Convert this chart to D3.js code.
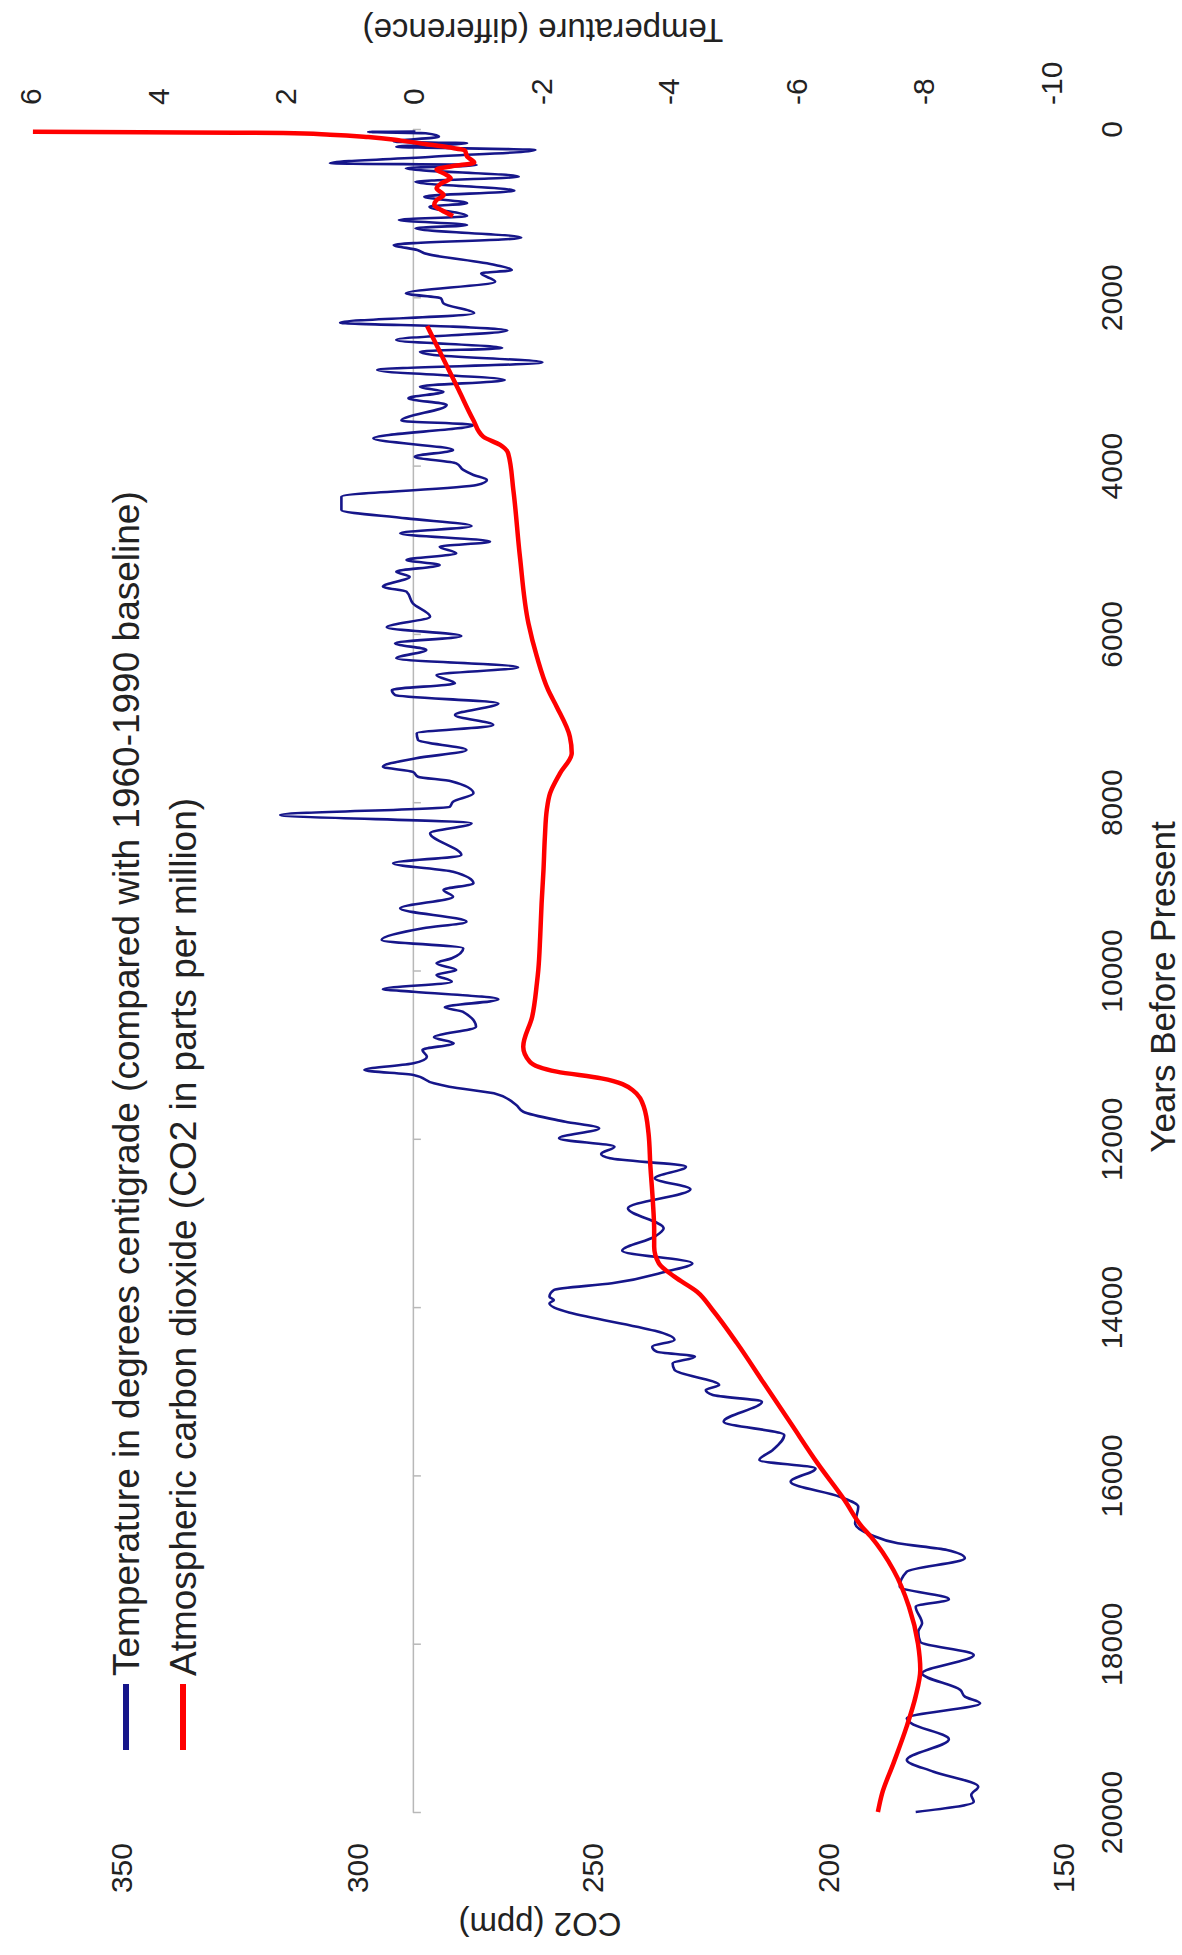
<!DOCTYPE html>
<html>
<head>
<meta charset="utf-8">
<script src="https://cdn.jsdelivr.net/npm/d3@7"></script>
<style>
  body { margin: 0; background: #fff; }
  svg { display: block; }
  text { font-family: "Liberation Sans", Arial, sans-serif; fill: #222; }
</style>
</head>
<body>
<div id="chart"></div>
<script>
// temperature difference (deg C) against years before present
const tempYears = [30, 35, 50, 91, 150, 170, 210, 250, 330, 408, 428, 467, 567, 626, 733, 804, 883, 923,
  1034, 1081, 1141, 1180, 1291, 1378, 1438, 1477, 1616, 1676, 1715, 1814, 1953, 2012, 2072, 2190,
  2301, 2349, 2396, 2507, 2602, 2646, 2686, 2773, 2864, 2983, 3062, 3122, 3200, 3280, 3466, 3517,
  3676, 3815, 3894, 3973, 4052, 4112, 4171, 4231, 4369, 4528, 4627, 4718, 4805, 4904, 4964, 5043,
  5122, 5181, 5261, 5320, 5439, 5498, 5637, 5795, 5922, 6025, 6112, 6191, 6290, 6397, 6489, 6587,
  6667, 6726, 6825, 6964, 7083, 7182, 7261, 7380, 7478, 7578, 7640, 7697, 7750, 7894, 7994, 8053,
  8152, 8251, 8370, 8628, 8726, 8826, 8964, 9043, 9123, 9261, 9420, 9499, 9638, 9736, 9855, 9915,
  9994, 10053, 10133, 10223, 10252, 10343, 10438, 10489, 10668, 10794, 10865, 10945, 11024, 11103,
  11182, 11242, 11341, 11381, 11460, 11598, 11678, 11797, 11875, 11994, 12094, 12180, 12232, 12331,
  12469, 12600, 12826, 13064, 13163, 13330, 13480, 13579, 13717, 13797, 13876, 13916, 13955, 14391,
  14470, 14529, 14589, 14668, 14747, 14926, 14985, 15045, 15124, 15362, 15520, 15698, 15817, 15917,
  16075, 16253, 16372, 16570, 16708, 16807, 16887, 16985, 17144, 17322, 17472, 17560, 17758, 17857,
  17976, 18134, 18352, 18550, 18629, 18708, 18887, 18946, 19136, 19382, 19521, 19699, 19798, 19877, 20000]
const tempValues = [-0.04, 0.7, -0.2, -0.41, 0.3, -0.85, 0.26, -1.92, -0.3, 1.3, -1.0, 0.11, -1.66, -0.04, -1.59, -0.18, -0.85, -0.26,
  -0.85, 0.22, -0.85, -0.04, -1.7, 0.3, -0.07, -0.18, -1.29, -1.55, -1.07, -1.29, 0.11, -0.44, -0.48, -0.96,
  1.14, -0.63, -1.48, 0.26, -1.4, -0.11, -0.33, -2.03, 0.56, -1.44, -0.11, -0.48, 0.07, -0.53, 0.18, -0.95,
  0.62, -0.63, -0.03, -0.68, -0.79, -0.95, -1.16, -1.0, 1.12, 1.12, 0.1, -0.92, 0.2, -1.21, -0.42, -0.68,
  0.1, -0.42, 0.26, 0.05, 0.47, 0.1, 0.0, -0.27, 0.41, -0.76, 0.28, -0.21, 0.26, -1.65, -0.37, -0.66,
  0.33, 0.28, -1.34, -0.66, -1.26, -0.06, -0.08, -0.84, -0.05, 0.47, 0.0, -0.08, -0.6, -0.95, -0.63, -0.58,
  2.08, -0.92, -0.27, -0.76, 0.31, -0.63, -0.95, -0.48, -0.63, 0.2, -0.84, -0.16, 0.49, -0.79, -0.61, -0.37,
  -0.68, -0.37, -0.61, 0.47, -0.01, -1.34, -0.5, -0.78, -0.99, -0.33, -0.64, -0.15, -0.22, -0.01,
  0.76, -0.01, -0.33, -0.57, -1.27, -1.62, -1.73, -2.39, -2.92, -2.29, -3.16, -2.95, -3.09, -4.28,
  -3.79, -4.35, -3.37, -3.93, -3.79, -3.28, -4.38, -3.96, -3.12, -2.21, -2.14, -2.21, -2.14, -4.1,
  -3.75, -3.82, -4.42, -4.07, -4.1, -4.8, -4.59, -4.7, -5.47, -4.87, -5.82, -5.64, -5.43, -6.31,
  -5.92, -6.69, -6.98, -6.93, -7.18, -7.6, -8.37, -8.65, -7.74, -7.63, -8.4, -7.88, -7.98, -7.92,
  -7.95, -8.79, -7.98, -8.58, -8.65, -8.89, -7.74, -7.81, -8.4, -7.74, -8.16, -8.86, -8.75, -8.79, -7.88]

// CO2 (ppm), recent record and ice core record
const co2RecentYears = [32, 40, 44, 48, 67, 95, 138, 178, 218, 254, 329, 400, 440, 480, 527, 586, 646, 705, 784, 844, 903, 963, 1034]
const co2RecentValues = [368.7, 345.6, 325.6, 315.6, 305.6, 297.5, 290.5, 285.5, 280.5, 277.0, 276.5, 275.0, 279.5, 283.0, 281.5, 280.0, 282.0, 283.0, 281.5, 283.0, 283.5, 282.0, 279.5]
const co2IceYears = [2340, 3102, 3458, 3656, 3755, 3854, 4290, 5083, 5874, 6271, 6667, 6865, 7221, 7419, 7657, 7894, 8093,
  8410, 8806, 9202, 9598, 9994, 10152, 10549, 10905, 11084, 11202, 11282, 11420, 11618, 11935, 12331, 12727,
  13084, 13282, 13480, 13638, 13817, 14034, 14430, 14906, 15381, 15857, 16292, 16609, 16728, 17124, 17560,
  17996, 18312, 18629, 18986, 19422, 19778, 20000]
const co2IceValues = [285.0, 278.3, 275.2, 273.1, 269.5, 267.8, 266.7, 265.3, 263.5, 261.7, 259.3, 257.5, 254.7, 254.3, 256.8, 258.9, 259.6,
  260.0, 260.3, 260.7, 261.0, 261.4, 261.7, 262.7, 264.6, 263.2, 257.5, 248.0, 241.4, 239.0, 238.0, 237.6, 237.1,
  236.8, 236.8, 235.8, 232.5, 227.7, 224.4, 219.2, 213.5, 207.8, 202.1, 196.4, 192.7, 190.8, 186.0, 182.7,
  180.8, 180.3, 181.3, 183.2, 186.0, 188.4, 189.3]

const yearTicks = [0, 2000, 4000, 6000, 8000, 10000, 12000, 14000, 16000, 18000, 20000]
const tempTicks = [6, 4, 2, 0, -2, -4, -6, -8, -10]
const co2Ticks = [350, 300, 250, 200, 150]

const legendLabels = [
  'Temperature in degrees centigrade (compared with 1960-1990 baseline)',
  'Atmospheric carbon dioxide (CO2 in parts per million)'
]
const colors = ['#16168a', '#ff0000']

const width = 1182
const height = 1955

const svg = d3.select('#chart')
  .append('svg')
  .attr('width', width)
  .attr('height', height)

// the chart is drawn turned on its side: years run down the page
const yScale = d3.scaleLinear().domain([0, 20000]).range([129, 1812])
const tempScale = d3.scaleLinear().domain([-10, 6]).range([1051, 30])
const co2Scale = d3.scaleLinear().domain([150, 350]).range([1063, 121])

const fontFamily = '"Liberation Sans", Arial, sans-serif'

// gray axis line at zero degrees
svg.append('g')
  .attr('transform', `translate(${tempScale(0)},0)`)
  .call(d3.axisRight(yScale).tickValues(yearTicks).tickSize(8).tickSizeOuter(0).tickFormat(() => ''))
  .call(g => g.selectAll('path, line').attr('stroke', '#b8b8b8').attr('stroke-width', 1.5))

// year labels on the right
svg.append('g')
  .attr('transform', 'translate(1111,0)')
  .call(d3.axisRight(yScale).tickValues(yearTicks).tickSize(0).tickPadding(0).tickFormat(d => String(d)))
  .attr('font-size', 30)
  .attr('font-family', fontFamily)
  .call(g => g.select('.domain').remove())
  .selectAll('text')
  .attr('x', 0)
  .attr('dy', '0.35em')
  .attr('fill', '#2a2a2a')
  .attr('text-anchor', 'middle')
  .attr('transform', 'rotate(-90)')

// temperature labels along the top
svg.append('g')
  .attr('transform', 'translate(0,105)')
  .call(d3.axisTop(tempScale).tickValues(tempTicks).tickSize(0).tickPadding(0).tickFormat(d => String(d)))
  .attr('font-size', 30)
  .attr('font-family', fontFamily)
  .call(g => g.select('.domain').remove())
  .selectAll('text')
  .attr('x', 0)
  .attr('y', 0)
  .attr('dy', '0.35em')
  .attr('fill', '#2a2a2a')
  .attr('text-anchor', 'start')
  .attr('transform', 'rotate(-90)')

// CO2 labels along the bottom
svg.append('g')
  .attr('transform', 'translate(0,1843)')
  .call(d3.axisBottom(co2Scale).tickValues(co2Ticks).tickSize(0).tickPadding(0).tickFormat(d => String(d)))
  .attr('font-size', 30)
  .attr('font-family', fontFamily)
  .call(g => g.select('.domain').remove())
  .selectAll('text')
  .attr('x', 0)
  .attr('y', 0)
  .attr('dy', '0.35em')
  .attr('fill', '#2a2a2a')
  .attr('text-anchor', 'end')
  .attr('transform', 'rotate(-90)')

// axis titles
svg.append('text')
  .attr('transform', 'translate(543,31) rotate(180)')
  .attr('text-anchor', 'middle')
  .attr('dy', '0.35em')
  .attr('font-size', 33)
  .text('Temperature (difference)')

svg.append('text')
  .attr('transform', 'translate(540,1925) rotate(180)')
  .attr('text-anchor', 'middle')
  .attr('dy', '0.35em')
  .attr('font-size', 33)
  .text('CO2 (ppm)')

svg.append('text')
  .attr('transform', 'translate(1163,987) rotate(-90)')
  .attr('text-anchor', 'middle')
  .attr('dy', '0.35em')
  .attr('font-size', 35)
  .text('Years Before Present')

// data lines
const tempData = tempYears.map((y, i) => ({ year: y, v: tempValues[i] }))
const co2Recent = co2RecentYears.map((y, i) => ({ year: y, v: co2RecentValues[i] }))
const co2Ice = co2IceYears.map((y, i) => ({ year: y, v: co2IceValues[i] }))

const tempLine = d3.line()
  .x(d => tempScale(d.v))
  .y(d => yScale(d.year))
  .curve(d3.curveMonotoneY)

const co2Line = d3.line()
  .x(d => co2Scale(d.v))
  .y(d => yScale(d.year))
  .curve(d3.curveMonotoneY)

svg.append('path')
  .datum(tempData)
  .attr('d', tempLine)
  .attr('fill', 'none')
  .attr('stroke', colors[0])
  .attr('stroke-width', 2.6)
  .attr('stroke-linejoin', 'round')

svg.selectAll('.co2')
  .data([co2Recent, co2Ice])
  .enter()
  .append('path')
  .attr('class', 'co2')
  .attr('d', co2Line)
  .attr('fill', 'none')
  .attr('stroke', colors[1])
  .attr('stroke-width', 4.5)
  .attr('stroke-linejoin', 'round')

// legend
const legendX = [126, 183]
const legend = svg.selectAll('.legend')
  .data(legendLabels)
  .enter()
  .append('g')
  .attr('class', 'legend')
  .attr('transform', (d, i) => `translate(${legendX[i]},0)`)

legend.append('line')
  .attr('x1', 0).attr('x2', 0)
  .attr('y1', 1684).attr('y2', 1750)
  .attr('stroke', (d, i) => colors[i])
  .attr('stroke-width', 6)

legend.append('text')
  .attr('transform', 'translate(0,1676) rotate(-90)')
  .attr('dy', '0.35em')
  .attr('font-size', 37)
  .text(d => d)
</script>
</body>
</html>
